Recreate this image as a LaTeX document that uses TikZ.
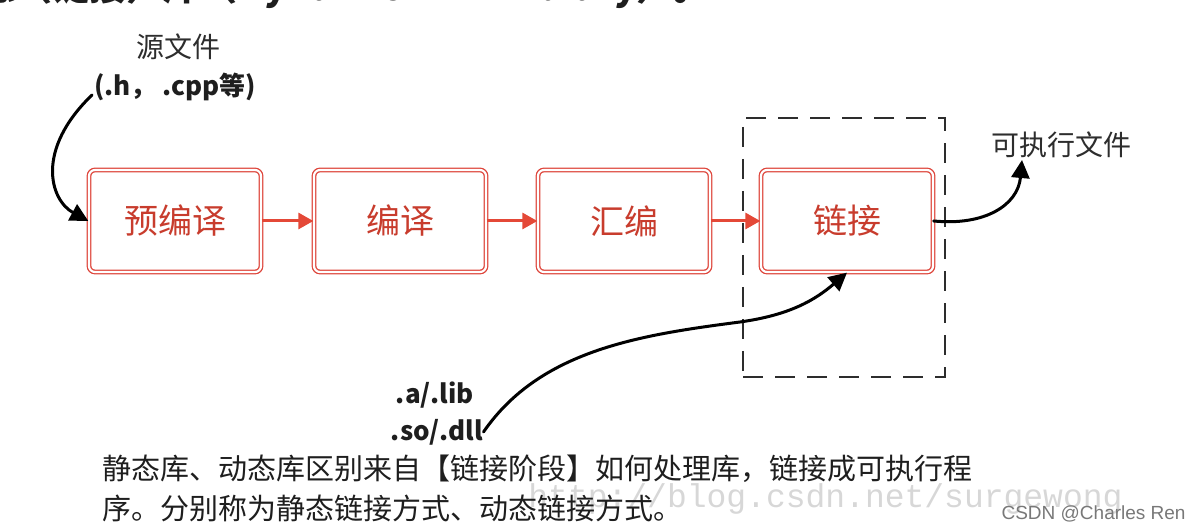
\documentclass[tikz,border=0pt]{standalone}
\usepackage{fontspec}
\setmainfont{Noto Sans CJK SC}
\newfontfamily\monofont{Liberation Mono}
\newfontfamily\arialfont{Liberation Sans}
\usetikzlibrary{arrows.meta}
\definecolor{boxred}{RGB}{222,70,60}
\definecolor{stagetext}{RGB}{200,60,45}
\definecolor{arrred}{RGB}{228,72,55}
\definecolor{ink}{RGB}{30,30,30}
\definecolor{labelgray}{RGB}{45,45,45}
\definecolor{dashgray}{RGB}{45,45,45}
\definecolor{wmgray}{RGB}{215,215,215}
\definecolor{csdngray}{RGB}{120,120,120}
\tikzset{
  stage/.style={draw=boxred, double=white, double distance=1.1pt, line width=0.65pt,
    rounded corners=3pt, minimum width=86pt, minimum height=51pt, text=stagetext,
    font=\fontsize{17}{20}\selectfont},
  redflow/.style={draw=arrred, line width=1.5pt, -{Triangle[length=7.5pt,width=8pt]}},
  blackflow/.style={draw=black, line width=1.5pt, line cap=round, -{Triangle[length=9pt,width=9pt]}},
  lbl/.style={text=labelgray, font=\fontsize{14}{16}\selectfont, inner sep=0pt},
  boldlbl/.style={text=ink, font=\bfseries\fontsize{13}{15}\selectfont, inner sep=0pt},
  linkframe/.style={draw=dashgray, dash pattern=on 10pt off 6pt, line width=1pt,
    minimum width=101pt, minimum height=129.5pt, inner sep=0pt},
}
\begin{document}
\begin{tikzpicture}[x=0.5pt,y=-0.5pt]
\useasboundingbox (0,0) rectangle (1200,528);

% cut-off heading line at the top
\node[anchor=base west, text=ink, font=\bfseries\fontsize{18.5}{20}\selectfont, inner sep=0pt] (heading) at (-22,0.5) {态（链接）库（Dynamic Link Library）。};

% dashed frame around the link stage
\node[linkframe] (linkstage) at (844,247.5) {};

% stages
\node[stage] (pre)  at (175,221) {预编译};
\node[stage] (comp) at (400,221) {编译};
\node[stage] (asm)  at (624,221) {汇编};
\node[stage] (link) at (847,221) {链接};

\draw[redflow] (pre) -- (comp);
\draw[redflow] (comp) -- (asm);
\draw[redflow] (asm) -- (link);

% labels
\node[lbl] (src) at (178,47) {源文件};
\node[boldlbl] (srcext) at (175,87) {(.h， .cpp等)};
\node[lbl] (exe) at (1061,145) {可执行文件};
\node[boldlbl] (staticlib) at (435,395) {.a/.lib};
\node[boldlbl] (dynlib) at (437,432) {.so/.dll};

\coordinate (srcstart) at (92,95);
\coordinate (exetip) at (1022,160);

\draw[blackflow] (srcstart) .. controls (35,150) and (50,200) .. (pre.west);
\draw[blackflow] (link.east) .. controls (985,226) and (1018,205) .. (exetip);
\draw[blackflow] (dynlib.east) .. controls (540,350) and (640,335) .. (740,322)
   .. controls (790,315) and (815,300) .. (link.south);

% watermark
\node[anchor=base west, text=wmgray, font=\monofont\fontsize{16.5}{18}\selectfont, inner sep=0pt] (wm) at (528,508) {http://blog.csdn.net/surgewong};

% note text
\node[anchor=base west, text=ink, font=\fontsize{14.5}{20}\selectfont, inner sep=0pt] (note1) at (102,480) {静态库、动态库区别来自【链接阶段】如何处理库，链接成可执行程};
\node[anchor=base west, text=ink, font=\fontsize{14.5}{20}\selectfont, inner sep=0pt] (note2) at (102,520) {序。分别称为静态链接方式、动态链接方式。};

\node[anchor=base east, text=csdngray, font=\arialfont\fontsize{9.5}{11}\selectfont, inner sep=0pt] (csdn) at (1186,520) {CSDN @Charles Ren};
\end{tikzpicture}
\end{document}
